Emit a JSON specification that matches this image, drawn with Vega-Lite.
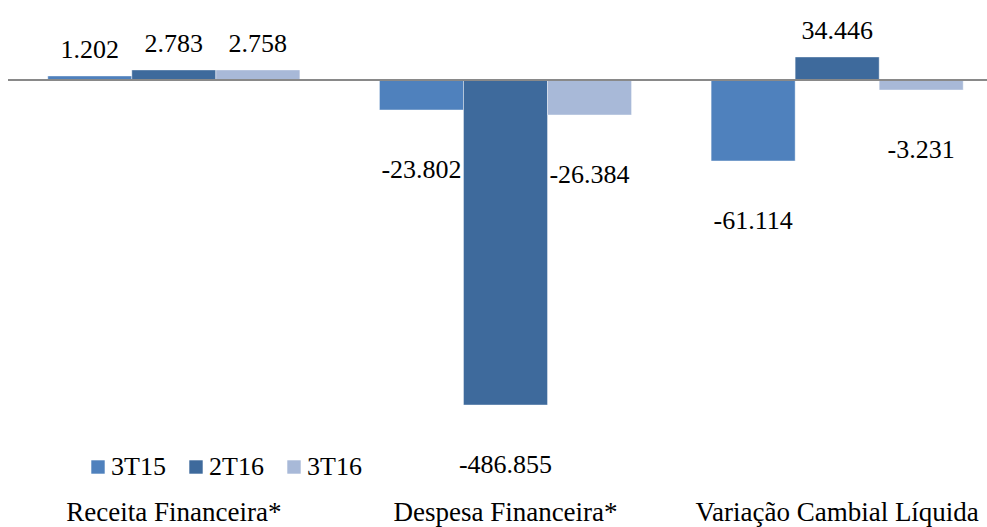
{
  "$schema": "https://vega.github.io/schema/vega-lite/v6.json",
  "width": 979,
  "height": 490,
  "autosize": {"type": "none"},
  "padding": {"left": 8, "top": 0, "right": 0, "bottom": 37},
  "config": {
    "view": {"stroke": null},
    "font": "Liberation Serif",
    "locale": {"number": {"decimal": ",", "thousands": ".", "grouping": [3], "currency": ["R$", ""], "minus": "-"}}
  },
  "data": {
    "values": [
      {"categoria": "Receita Financeira*", "serie": "3T15", "valor": 1202, "barra": 6},
      {"categoria": "Receita Financeira*", "serie": "2T16", "valor": 2783, "barra": 15},
      {"categoria": "Receita Financeira*", "serie": "3T16", "valor": 2758, "barra": 15},
      {"categoria": "Despesa Financeira*", "serie": "3T15", "valor": -23802, "barra": -44.9},
      {"categoria": "Despesa Financeira*", "serie": "2T16", "valor": -486855, "barra": -486.855},
      {"categoria": "Despesa Financeira*", "serie": "3T16", "valor": -26384, "barra": -52.4},
      {"categoria": "Variação Cambial Líquida", "serie": "3T15", "valor": -61114, "barra": -121.3},
      {"categoria": "Variação Cambial Líquida", "serie": "2T16", "valor": 34446, "barra": 34.446},
      {"categoria": "Variação Cambial Líquida", "serie": "3T16", "valor": -3231, "barra": -15}
    ]
  },
  "layer": [
    {
      "mark": {"type": "bar", "stroke": "white", "strokeWidth": 1, "strokeOpacity": 0.4},
      "encoding": {
        "x": {
          "field": "categoria", "type": "nominal",
          "sort": ["Receita Financeira*", "Despesa Financeira*", "Variação Cambial Líquida"],
          "scale": {"range": [0, 995], "paddingInner": 0.24, "paddingOuter": 0.12},
          "axis": {"title": null, "labelAngle": 0, "ticks": false, "domain": false, "grid": false, "labelFontSize": 27, "labelColor": "black", "labelPadding": 9, "labelLimit": 0}
        },
        "xOffset": {"field": "serie", "type": "nominal", "sort": ["3T15", "2T16", "3T16"]},
        "y": {"field": "barra", "type": "quantitative", "scale": {"domain": [-614.2, 119.8], "nice": false, "zero": false}, "axis": null},
        "color": {
          "field": "serie", "type": "nominal",
          "scale": {"domain": ["3T15", "2T16", "3T16"], "range": ["#4F81BD", "#3E6A9C", "#A8B9D8"]},
          "legend": {"orient": "none", "legendX": 77, "legendY": 454, "direction": "horizontal", "title": null, "symbolType": "square", "symbolSize": 180, "symbolStrokeWidth": 0, "labelFontSize": 26, "labelColor": "black", "labelOffset": 0, "columnPadding": 17, "padding": 0}
        }
      }
    },
    {
      "transform": [{"filter": "datum.barra >= 0"}],
      "mark": {"type": "text", "baseline": "alphabetic", "dy": -18, "fontSize": 26, "color": "black"},
      "encoding": {
        "x": {"field": "categoria", "type": "nominal", "sort": ["Receita Financeira*", "Despesa Financeira*", "Variação Cambial Líquida"]},
        "xOffset": {"field": "serie", "type": "nominal", "sort": ["3T15", "2T16", "3T16"]},
        "y": {"field": "barra", "type": "quantitative"},
        "text": {"field": "valor", "type": "quantitative", "format": ",.0f"}
      }
    },
    {
      "transform": [{"filter": "datum.barra < 0"}],
      "mark": {"type": "text", "baseline": "alphabetic", "dy": 68, "fontSize": 26, "color": "black"},
      "encoding": {
        "x": {"field": "categoria", "type": "nominal", "sort": ["Receita Financeira*", "Despesa Financeira*", "Variação Cambial Líquida"]},
        "xOffset": {"field": "serie", "type": "nominal", "sort": ["3T15", "2T16", "3T16"]},
        "y": {"field": "barra", "type": "quantitative"},
        "text": {"field": "valor", "type": "quantitative", "format": ",.0f"}
      }
    },
    {
      "data": {"values": [{}]},
      "mark": {"type": "rule", "color": "#898989", "strokeWidth": 2},
      "encoding": {"y": {"datum": 0}}
    }
  ]
}
